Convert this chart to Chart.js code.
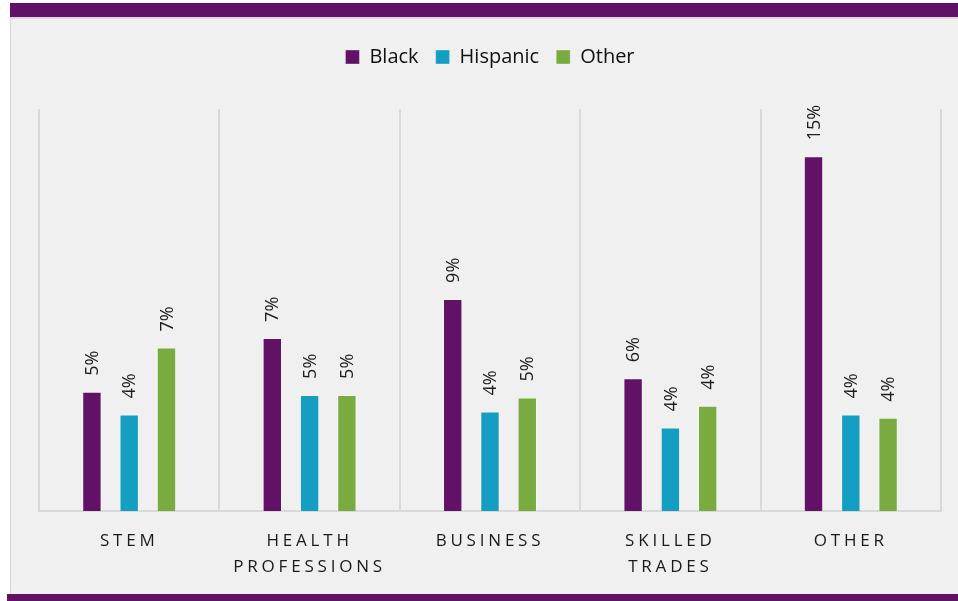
<!DOCTYPE html>
<html>
<head>
<meta charset="utf-8">
<script src="https://cdn.jsdelivr.net/npm/chart.js@4/dist/chart.umd.min.js"></script>
<style>
  html, body { margin: 0; padding: 0; background: #ffffff; }
  body { width: 958px; height: 601px; position: relative; overflow: hidden; }
  #panel { position: absolute; left: 10px; top: 17px; width: 948px; height: 577px; background: #f0f0f0; border-left: 1px solid #d6d6d6; border-top: 2px solid #d9d9d9; box-sizing: border-box; }
  #topbar { position: absolute; left: 10px; top: 3px; width: 948px; height: 14px; background: #611266; }
  #botbar { position: absolute; left: 7px; top: 594px; width: 951px; height: 7px; background: #611266; }
  canvas { position: absolute; left: 0; top: 0; }
</style>
</head>
<body>
<div id="panel"></div>
<div id="topbar"></div>
<div id="botbar"></div>
<canvas id="c" width="958" height="601"></canvas>
<script>
const categories = ['STEM', ['HEALTH', 'PROFESSIONS'], 'BUSINESS', ['SKILLED', 'TRADES'], 'OTHER'];
const seriesNames = ['Black', 'Hispanic', 'Other'];
const blackValues = [5.04, 7.32, 8.97, 5.61, 15.0];
const hispanicValues = [4.08, 4.91, 4.21, 3.53, 4.08];
const otherValues = [6.91, 4.91, 4.80, 4.45, 3.94];
const seriesColors = ['#611266', '#149fc2', '#7aab41'];

const LETTER_SPACING = 3.8;

const barLabels = {
  id: 'barLabels',
  afterDatasetsDraw(chart) {
    const ctx = chart.ctx;
    ctx.save();
    ctx.font = '18px "Open Sans"';
    ctx.fillStyle = '#1e1e1e';
    ctx.textAlign = 'left';
    ctx.textBaseline = 'middle';
    chart.data.datasets.forEach((ds, di) => {
      const meta = chart.getDatasetMeta(di);
      meta.data.forEach((el, i) => {
        const txt = Math.round(ds.data[i]) + '%';
        ctx.save();
        ctx.translate(el.x + 1, el.y - 16);
        ctx.rotate(-Math.PI / 2);
        ctx.fillText(txt, 0, 0);
        ctx.restore();
      });
    });
    ctx.restore();
  }
};

const spacedTicks = {
  id: 'spacedTicks',
  afterUpdate(chart) {
    const sc = chart.scales.x;
    if (!sc || sc._spacedPatched) return;
    const orig = sc.drawLabels;
    sc.drawLabels = function (area) {
      const ctx = this.ctx;
      ctx.save();
      ctx.letterSpacing = LETTER_SPACING + 'px';
      orig.call(this, area);
      ctx.restore();
    };
    sc._spacedPatched = true;
  }
};

new Chart(document.getElementById('c'), {
  type: 'bar',
  data: {
    labels: categories,
    datasets: [
      { label: seriesNames[0], data: blackValues, backgroundColor: seriesColors[0], borderColor: 'rgba(255,255,255,0.35)', borderWidth: 1 },
      { label: seriesNames[1], data: hispanicValues, backgroundColor: seriesColors[1], borderColor: 'rgba(255,255,255,0.35)', borderWidth: 1 },
      { label: seriesNames[2], data: otherValues, backgroundColor: seriesColors[2], borderColor: 'rgba(255,255,255,0.35)', borderWidth: 1 }
    ]
  },
  options: {
    responsive: false,
    animation: false,
    devicePixelRatio: 1,
    categoryPercentage: 0.62,
    barPercentage: 0.52,
    layout: { padding: { top: 30, left: 39, right: 17, bottom: 0 } },
    plugins: {
      legend: {
        position: 'top',
        labels: {
          boxWidth: 14, boxHeight: 14, padding: 17,
          color: '#111111',
          font: { family: '"Open Sans"', size: 20 }
        }
      },
      tooltip: { enabled: false }
    },
    scales: {
      xTop: {
        type: 'category',
        position: 'top',
        ticks: { display: false },
        grid: { display: false },
        border: { display: false },
        afterFit(s) { s.height = 32; }
      },
      x: {
        position: 'bottom',
        grid: { color: '#d9d9d9', lineWidth: 2, tickLength: 0, offset: true, drawTicks: false },
        border: { color: '#d9d9d9', width: 2 },
        ticks: {
          color: '#1a1a1a', padding: 17,
          font: { family: '"Open Sans"', size: 17, lineHeight: 1.55 },
          maxRotation: 0, autoSkip: false
        },
        afterFit(s) { s.height = 90; }
      },
      y: { display: false, min: 0, max: 17 }
    }
  },
  plugins: [barLabels, spacedTicks]
});
</script>
</body>
</html>
